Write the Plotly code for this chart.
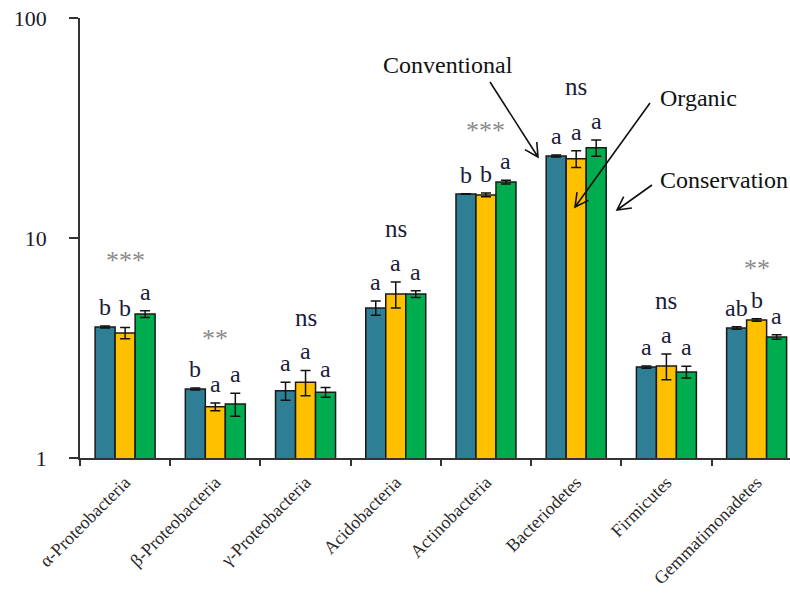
import numpy as np
import plotly.graph_objects as go

# Relative abundance (%) of bacterial phyla/classes under three farming systems
categories = ["α-Proteobacteria", "β-Proteobacteria", "γ-Proteobacteria", "Acidobacteria",
              "Actinobacteria", "Bacteriodetes", "Firmicutes", "Gemmatimonadetes"]
systems = ["Conventional", "Organic", "Conservation"]
colors = ["#2E7F96", "#FFC000", "#00AD4E"]

conventional = [3.94, 2.06, 2.02, 4.81, 15.85, 23.6, 2.59, 3.90]
organic = [3.70, 1.71, 2.21, 5.56, 15.7, 22.9, 2.62, 4.24]
conservation = [4.51, 1.76, 1.99, 5.56, 17.97, 25.7, 2.46, 3.55]

conventional_se = [0.04, 0.02, 0.19, 0.36, 0.05, 0.25, 0.03, 0.05]
organic_se = [0.22, 0.07, 0.29, 0.75, 0.30, 2.0, 0.35, 0.06]
conservation_se = [0.16, 0.21, 0.10, 0.20, 0.35, 2.2, 0.15, 0.08]

letters_conv = ["b", "b", "a", "a", "b", "a", "a", "ab"]
letters_org = ["b", "a", "a", "a", "b", "a", "a", "b"]
letters_cons = ["a", "a", "a", "a", "a", "a", "a", "a"]

significance = ["***", "**", "ns", "ns", "***", "ns", "ns", "**"]

values = [conventional, organic, conservation]
errors = [conventional_se, organic_se, conservation_se]
letters = [letters_conv, letters_org, letters_cons]

serif = "'Liberation Serif', 'DejaVu Serif', 'Times New Roman', serif"

# figure geometry (pixels)
W, H = 790, 597
ML, MR, MT, MB = 80, 0, 18, 139
PW, PH = W - ML - MR, H - MT - MB

fig = go.Figure()
for name, vals, errs, col in zip(systems, values, errors, colors):
    fig.add_trace(go.Bar(
        name=name, x=categories, y=vals,
        marker=dict(color=col, line=dict(color="#1a1a1a", width=1.5)),
        error_y=dict(type="data", array=errs, visible=True,
                     color="#111111", thickness=1.5, width=5),
    ))

# x-range chosen so each category spans ~90 px
x_range = [-0.5, 7.37]
cat_px = PW / (x_range[1] - x_range[0])
bar_px = cat_px * (1 - 0.335) / 3

annotations = []
for k in range(3):
    for i, cat in enumerate(categories):
        top = values[k][i] + errors[k][i]
        annotations.append(dict(
            x=cat, y=np.log10(top), xref="x", yref="y",
            text=letters[k][i], showarrow=False,
            xshift=(k - 1) * bar_px, yanchor="bottom", yshift=4,
            font=dict(family=serif, size=24, color="#1b1b3a"),
        ))

for i, cat in enumerate(categories):
    group_top = max(values[k][i] + errors[k][i] for k in range(3))
    star = significance[i] != "ns"
    annotations.append(dict(
        x=cat, y=np.log10(group_top), xref="x", yref="y",
        text=significance[i], showarrow=False,
        yanchor="middle", yshift=53 if not star else 50,
        font=dict(family=serif, size=26 if star else 25,
                  color="#8a8a8a" if star else "#1b1b3a"),
    ))


def px_to_paper(px, py):
    return (px - ML) / PW, (H - MB - py) / PH


# legend callouts: label text plus an open-headed arrow
callouts = [
    ("Conventional", (448, 65), "center", (490, 82), (538, 157)),
    ("Organic", (698, 98), "center", (650, 103), (575, 207)),
    ("Conservation", (658, 180), "left", (652, 185), (617, 210)),
]
shapes = []
for text, (tx, ty), anchor, tail, head in callouts:
    ax_, ay_ = px_to_paper(tx, ty)
    annotations.append(dict(
        x=ax_, y=ay_, xref="paper", yref="paper", text=text, showarrow=False,
        xanchor=anchor, yanchor="middle",
        font=dict(family=serif, size=24, color="#111111"),
    ))
    t = np.array(tail, float)
    h = np.array(head, float)
    d = (t - h) / np.linalg.norm(t - h)
    wings = []
    for ang in (np.radians(28), -np.radians(28)):
        rot = np.array([[np.cos(ang), -np.sin(ang)], [np.sin(ang), np.cos(ang)]])
        wings.append(h + 15 * rot @ d)
    pts = [px_to_paper(*p) for p in (t, h, wings[0], h, wings[1])]
    path = (f"M {pts[0][0]} {pts[0][1]} L {pts[1][0]} {pts[1][1]} "
            f"M {pts[2][0]} {pts[2][1]} L {pts[3][0]} {pts[3][1]} L {pts[4][0]} {pts[4][1]}")
    shapes.append(dict(type="path", xref="paper", yref="paper", path=path,
                       line=dict(color="#111111", width=1.6)))

fig.update_layout(
    width=W, height=H,
    margin=dict(l=ML, r=MR, t=MT, b=MB),
    paper_bgcolor="white", plot_bgcolor="white",
    barmode="group", bargap=0.335, bargroupgap=0,
    showlegend=False,
    annotations=annotations, shapes=shapes,
    xaxis=dict(
        range=x_range, showgrid=False, zeroline=False,
        showline=True, linecolor="#333333", linewidth=1.5,
        ticks="outside", tickson="boundaries", ticklen=6,
        tickcolor="#333333", tickwidth=1.5,
        tickangle=-45, ticklabelstandoff=5,
        tickfont=dict(family=serif, size=18, color="#2a2a2a"),
    ),
    yaxis=dict(
        type="log", range=[0, 2], showgrid=False, zeroline=False,
        showline=True, linecolor="#333333", linewidth=1.5,
        ticks="outside", ticklen=9, tickcolor="#333333", tickwidth=1.5,
        tickvals=[1, 10, 100], ticktext=["1", "10", "100"],
        ticklabelstandoff=18,
        tickfont=dict(family=serif, size=22, color="#1b1b2a"),
    ),
)

fig.write_html("out.html")
